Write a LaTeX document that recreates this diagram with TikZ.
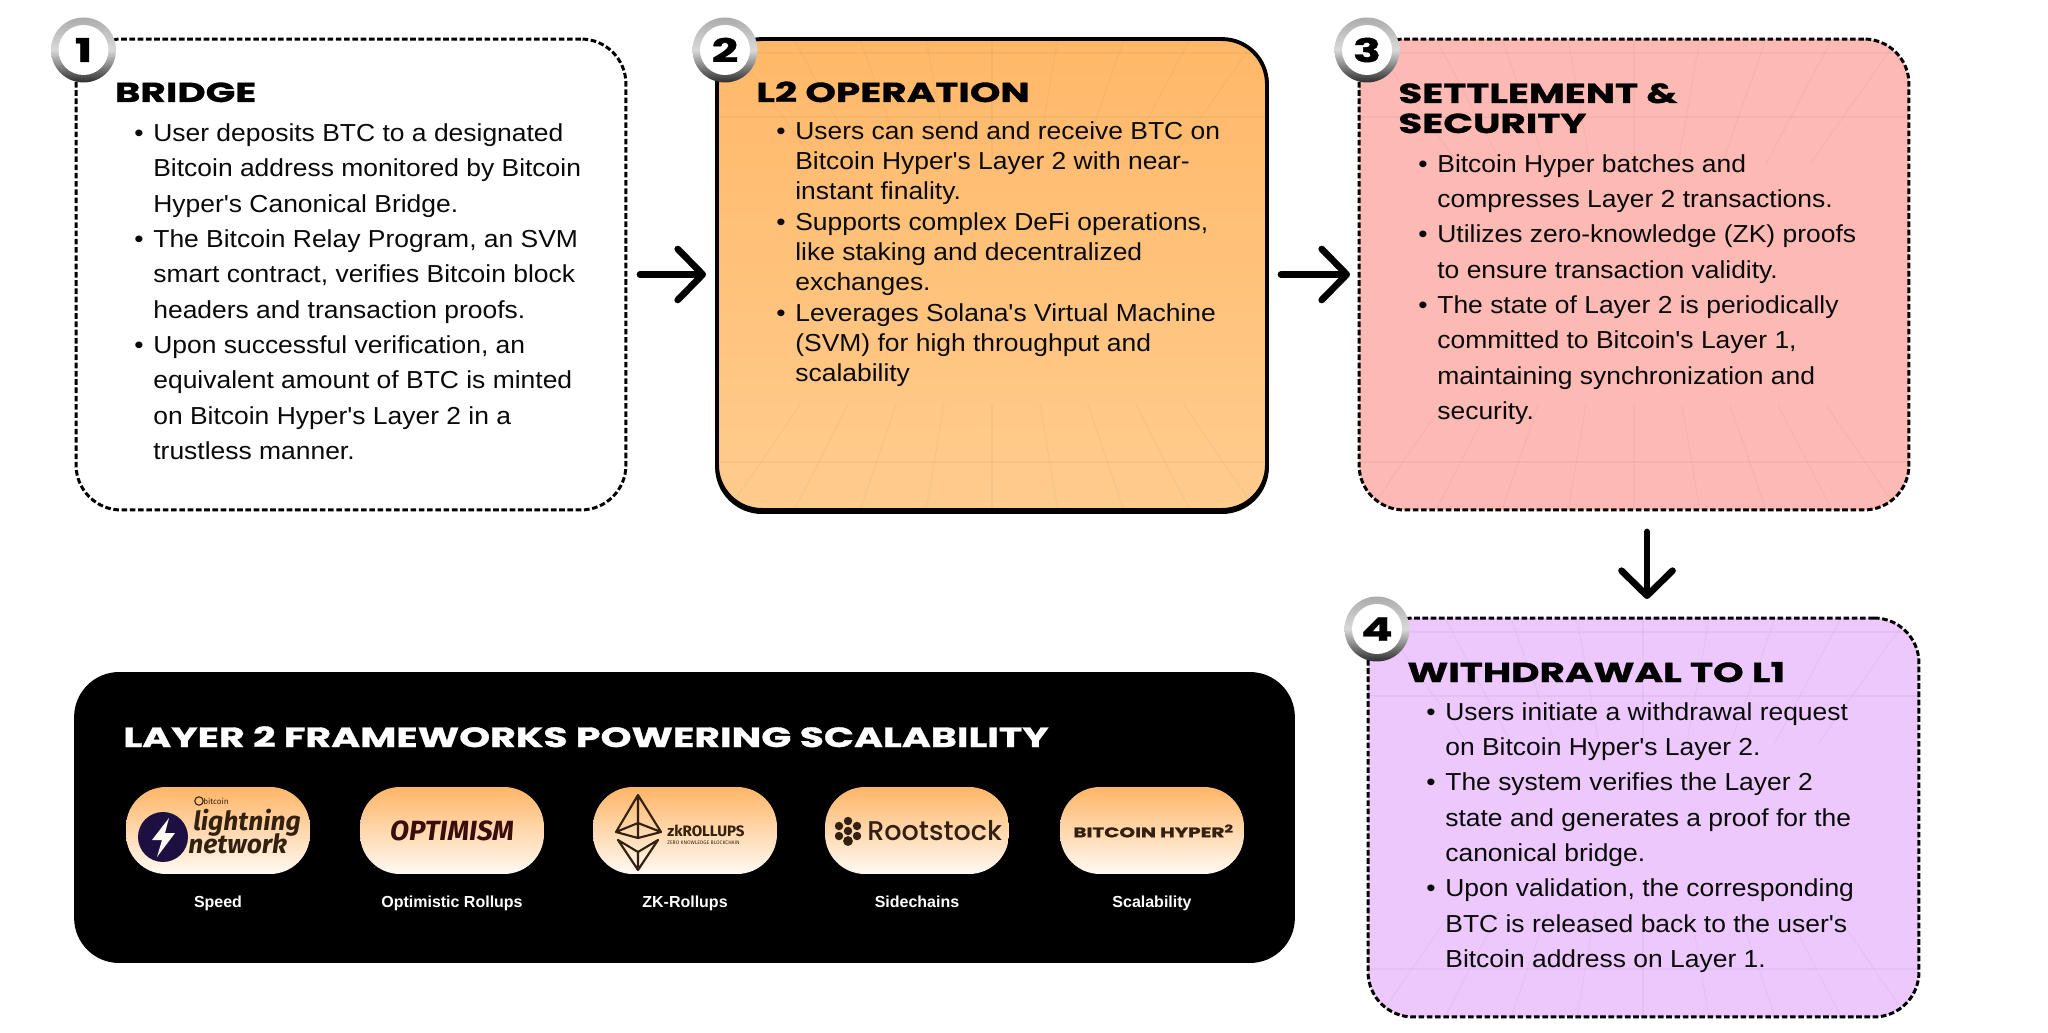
\documentclass[tikz,border=0pt]{standalone}
\usepackage{fontspec}
\usetikzlibrary{arrows.meta}
\newfontfamily\bodyfont[FakeStretch=1.075]{Liberation Sans}
\newfontfamily\headfont[FakeStretch=1.42,FakeBold=1.2]{Poppins Bold}
\newfontfamily\labelfont{Liberation Sans}
\newfontfamily\logofont{Fira Sans}
\newfontfamily\rootfont{Poppins Medium}
\definecolor{inkblack}{HTML}{0A0A0A}
\definecolor{settlepink}{HTML}{FDB9B4}
\definecolor{withdrawlilac}{HTML}{ECC8FC}
\definecolor{pilltop}{HTML}{FFB566}
\definecolor{pillbottom}{HTML}{FFFAF4}
\definecolor{logobrown}{HTML}{33200F}
\newcommand{\blt}{\leavevmode\llap{\textbullet\hspace{5.6pt}}}
\newcommand{\perspgrid}[4]{%
  \begin{scope}
    \clip[rounded corners=0.9cm] (#1.south west) rectangle (#1.north east);
    \foreach \i in {-4,...,4} {
      \draw[gridline] (#2+\i*66,#3) -- (#2+\i*44,#3+125);
      \draw[gridline] (#2+\i*66,#4) -- (#2+\i*48,#4-105);
    }
    \draw[gridline] (#2-300,#3+14) -- (#2+300,#3+14);
    \draw[gridline] (#2-300,#3+78) -- (#2+300,#3+78);
    \draw[gridline] (#2-300,#4-48) -- (#2+300,#4-48);
  \end{scope}}
\tikzset{
  stepbox/.style={rectangle,rounded corners=0.9cm,minimum width=11cm,minimum height=9.42cm,
    inner sep=0,outer sep=0},
  dashedbox/.style={stepbox,draw=black,line width=1.7pt,dash pattern=on 3.2pt off 1.5pt},
  gridline/.style={draw=black,opacity=.03,line width=.6pt},
  headtext/.style={font=\headfont\fontsize{15.6}{17.1}\selectfont,text=black,anchor=base west,
    inner sep=0,align=left},
  bodytext/.style={font=\bodyfont\fontsize{14}{20.1}\selectfont,text=inkblack,anchor=north west,
    inner sep=0,align=left},
  bodytight/.style={bodytext,font=\bodyfont\fontsize{14}{17.25}\selectfont},
  badgering/.style={circle,minimum size=1.3cm,inner sep=0,top color=gray!65,bottom color=gray!35!black,
    middle color=gray!30},
  badge/.style={circle,minimum size=1cm,inner sep=0,fill=white,text=black,
    font=\headfont\fontsize{18.5}{18.5}\selectfont},
  flowarrow/.style={-{Straight Barb[length=.5cm,width=1.02cm,round]},line width=3.8pt,line cap=round,black},
  pill/.style={rectangle,rounded corners=.8cm,minimum width=3.68cm,minimum height=1.74cm,inner sep=0,
    top color=pilltop,bottom color=pillbottom},
  pillcaption/.style={font=\labelfont\bfseries\fontsize{9.1}{11}\selectfont,text=white,inner sep=0,anchor=base},
  logotext/.style={inner sep=0,text=logobrown}
}
\begin{document}
\begin{tikzpicture}[x=0.02cm,y=-0.02cm]
  \useasboundingbox (0,0) rectangle (2048,1033);
  % step boxes
  \node[dashedbox,fill=white] (bridge) at (351,274.5) {};
  \node[stepbox,draw=black,line width=2.2pt,
    top color={rgb,255:red,255;green,184;blue,104},bottom color={rgb,255:red,255;green,204;blue,142},
    preaction={draw=black,line width=2.2pt,transform canvas={yshift=-1.2pt}}] (operation) at (992,274.5) {};
  \node[dashedbox,fill=settlepink] (settlement) at (1634,274.5) {};
  \node[dashedbox,fill=withdrawlilac,minimum width=11.02cm,minimum height=7.98cm] (withdrawal) at (1643.5,817.5) {};
  \perspgrid{operation}{992}{39}{510}
  \perspgrid{settlement}{1634}{39}{510}
  \perspgrid{withdrawal}{1643}{618}{1017}
  % titles
  \node[headtext] (bridgetitle) at (114.5,102) {BRIDGE};
  \node[headtext] (operationtitle) at (756,102) {L2 OPERATION};
  \node[headtext] (settlementtitle) at (1398,133) {SETTLEMENT \&\\SECURITY};
  \node[headtext] (withdrawaltitle) at (1407,682) {WITHDRAWAL TO L1};
  % bullet lists
  \node[bodytext] (bridgetext) at (153,123.5) {\blt User deposits BTC to a designated\\
    Bitcoin address monitored by Bitcoin\\Hyper's Canonical Bridge.\\
    \blt The Bitcoin Relay Program, an SVM\\smart contract, verifies Bitcoin block\\
    headers and transaction proofs.\\
    \blt Upon successful verification, an\\equivalent amount of BTC is minted\\
    on Bitcoin Hyper's Layer 2 in a\\trustless manner.};
  \node[bodytight] (operationtext) at (795,121) {\blt Users can send and receive BTC on\\
    Bitcoin Hyper's Layer 2 with near-\\instant finality.\\
    \blt Supports complex DeFi operations,\\like staking and decentralized\\exchanges.\\
    \blt Leverages Solana's Virtual Machine\\(SVM) for high throughput and\\scalability};
  \node[bodytext] (settlementtext) at (1437,154) {\blt Bitcoin Hyper batches and\\
    compresses Layer 2 transactions.\\
    \blt Utilizes zero-knowledge (ZK) proofs\\to ensure transaction validity.\\
    \blt The state of Layer 2 is periodically\\committed to Bitcoin's Layer 1,\\
    maintaining synchronization and\\security.};
  \node[bodytext] (withdrawaltext) at (1445,702) {\blt Users initiate a withdrawal request\\
    on Bitcoin Hyper's Layer 2.\\
    \blt The system verifies the Layer 2\\state and generates a proof for the\\canonical bridge.\\
    \blt Upon validation, the corresponding\\BTC is released back to the user's\\
    Bitcoin address on Layer 1.};
  % number badges
  \node[badgering] (ringone) at (83.5,50) {};
  \node[badge] (badgeone) at (ringone) {1};
  \node[badgering] (ringtwo) at (725,50) {};
  \node[badge] (badgetwo) at (ringtwo) {2};
  \node[badgering] (ringthree) at (1367,50) {};
  \node[badge] (badgethree) at (ringthree) {3};
  \node[badgering] (ringfour) at (1377,629) {};
  \node[badge] (badgefour) at (ringfour) {4};
  % arrows between the steps
  \coordinate (downx) at (1647,0);
  \begin{scope}[flowarrow]
    \draw[shorten <=.28cm,shorten >=.22cm] (bridge) to (operation);
    \draw[shorten <=.28cm,shorten >=.18cm] (operation) to (settlement);
    \draw[shorten <=.44cm,shorten >=.38cm] (settlement.south -| downx) to (withdrawal.north -| downx);
  \end{scope}
  % frameworks panel
  \node[rectangle,rounded corners=.9cm,fill=black,minimum width=24.42cm,minimum height=5.82cm,inner sep=0] (panel) at (684.5,817.5) {};
  \node[headtext,text=white,font=\headfont\fontsize{15.8}{17}\selectfont] (paneltitle) at (123,747) {LAYER 2 FRAMEWORKS POWERING SCALABILITY};
  \node[pill] (lightningpill) at (218,830.5) {};
  \node[pill] (optimismpill) at (452,830.5) {};
  \node[pill] (zkpill) at (685,830.5) {};
  \node[pill] (rootstockpill) at (917,830.5) {};
  \node[pill] (hyperpill) at (1152,830.5) {};
  \node[pillcaption] (speedlabel) at (218,907) {Speed};
  \node[pillcaption] (optimisticlabel) at (452,907) {Optimistic Rollups};
  \node[pillcaption] (zklabel) at (685,907) {ZK-Rollups};
  \node[pillcaption] (sidechainlabel) at (917,907) {Sidechains};
  \node[pillcaption] (scalabilitylabel) at (1152,907) {Scalability};
  % logos
  \fill[fill={rgb,255:red,29;green,15;blue,63}] (163,837) circle (.5cm);
  \fill[pillbottom] (169,818) -- (152,840) -- (162,840) -- (157,857) -- (175,833) -- (165,833) -- cycle;
  \node[logotext,font=\logofont\bfseries\itshape\fontsize{15}{16}\selectfont,anchor=base west] (lightningword) at (193,830) {lightning};
  \node[logotext,font=\logofont\bfseries\itshape\fontsize{15}{16}\selectfont,anchor=base west] (networkword) at (188,853) {network};
  \draw[logobrown,line width=.6pt] (199,801) circle (2.4pt);
  \node[logotext,font=\logofont\fontsize{4.6}{5}\selectfont,anchor=west] (bitcoinword) at (203,801) {bitcoin};
  \node[font=\logofont\bfseries\itshape\fontsize{15.8}{16}\selectfont,inner sep=0,text={rgb,255:red,58;green,13;blue,13}] (optimismword) at (452,830.5) {OPTIMISM};
  \draw[logobrown,line width=1.2pt,line join=round] (638,795) -- (616,832) -- (638,838) -- (661,832) -- cycle
    (638,795) -- (638,838) (616,832) -- (638,823) -- (661,832);
  \draw[logobrown,line width=1.2pt,line join=round] (618,840) -- (638,870) -- (658,840) -- (638,852) -- cycle (638,852) -- (638,870);
  \node[logotext,font=\logofont\bfseries\fontsize{8.6}{10}\selectfont,anchor=west] (zkword) at (667,831) {zkROLLUPS};
  \node[logotext,font=\logofont\fontsize{2.9}{3}\selectfont,anchor=west] (zksubword) at (667,843) {ZERO KNOWLEDGE BLOCKCHAIN};
  \fill[logobrown] (848,831) circle (2.4pt) (848,821) circle (2.4pt) (839,826) circle (2.4pt) (857,826) circle (2.4pt)
    (839,836) circle (2.4pt) (857,836) circle (2.4pt) (848,841) circle (2.8pt);
  \node[logotext,font=\rootfont\fontsize{15.4}{16}\selectfont,anchor=west] (rootstockword) at (867,831) {Rootstock};
  \node[logotext,font=\headfont\fontsize{8}{9}\selectfont,anchor=west] (hyperword) at (1073,831) {BITCOIN HYPER\textsuperscript{2}};
\end{tikzpicture}
\end{document}
